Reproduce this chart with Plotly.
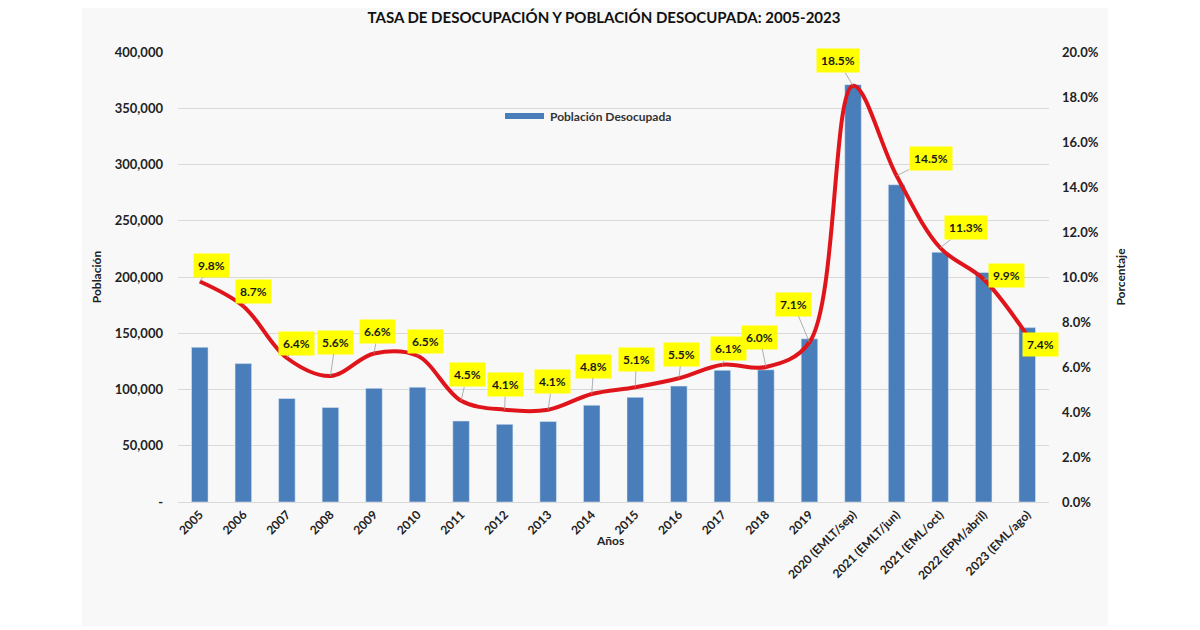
import plotly.graph_objects as go

# Datos: población desocupada y tasa de desocupación
anios = ["2005", "2006", "2007", "2008", "2009", "2010", "2011", "2012", "2013",
         "2014", "2015", "2016", "2017", "2018", "2019",
         "2020 (EMLT/sep)", "2021 (EMLT/jun)", "2021 (EML/oct)",
         "2022 (EPM/abril)", "2023 (EML/ago)"]
poblacion = [137500, 123000, 92000, 84000, 101000, 102000, 72000, 69000, 71500,
             86000, 93000, 103000, 117000, 117500, 145000,
             371000, 282000, 222000, 204000, 155000]
tasa = [9.8, 8.7, 6.4, 5.6, 6.6, 6.5, 4.5, 4.1, 4.1, 4.8, 5.1, 5.5, 6.1, 6.0,
        7.1, 18.5, 14.5, 11.3, 9.9, 7.4]
ticks_pob = [0, 50000, 100000, 150000, 200000, 250000, 300000, 350000, 400000]
ticks_pob_txt = ["-"] + [f"{v:,}" for v in ticks_pob[1:]]
ticks_pct = [0, 2, 4, 6, 8, 10, 12, 14, 16, 18, 20]
ticks_pct_txt = [f"{v:.1f}%" for v in ticks_pct]

# desplazamiento (px) de cada etiqueta respecto al punto
label_offsets = [(12, -16), (10, -15), (10, -15), (5, -34), (4, -22), (8, -14),
                 (6, -26), (1, -25), (4, -28), (2, -28), (1, -28), (3, -24),
                 (6, -16), (-6, -30), (-16, -38), (-15, -25), (34, -17),
                 (26, -20), (23, -4), (13, 9)]

FONT = "Lato"
PAD = 8  # margen del body de la página
W, H = 1200 - PAD, 630 - PAD
L, R, T, B = 178 - PAD, 151, 52 - PAD, 136 - PAD
PW, PH = W - L - R, H - T - B


def px(xp):
    return (xp - PAD - L) / PW


def py(yp):
    return (H - B - (yp - PAD)) / PH


fig = go.Figure()
fig.add_trace(go.Bar(x=anios, y=poblacion, name="Población Desocupada",
                     marker_color="#4a7ebb", width=0.38, showlegend=False))
fig.add_trace(go.Scatter(x=anios, y=tasa, yaxis="y2", mode="lines",
                         line=dict(color="#e0151b", width=4, shape="spline", smoothing=1.0),
                         showlegend=False))

annotations = []
for i, (t, (dx, dy)) in enumerate(zip(tasa, label_offsets)):
    # x como índice de categoría (los años numéricos se leerían como posición)
    annotations.append(dict(x=i, y=t, xref="x", yref="y2", text=f"{t:.1f}%",
                            showarrow=True, arrowhead=0, arrowwidth=0.8,
                            arrowcolor="#9a9a9a", ax=dx, ay=dy,
                            bgcolor="#ffff00", borderpad=4,
                            font=dict(family=FONT, size=12, color="#1a1a1a", weight="bold")))

annotations.append(dict(text="Años", x=px(610), y=py(540),
                        xref="paper", yref="paper", showarrow=False,
                        xanchor="center", yanchor="middle",
                        font=dict(family=FONT, size=12, color="#222", weight="bold")))
annotations.append(dict(text="Población Desocupada", x=px(548), y=py(116),
                        xref="paper", yref="paper", showarrow=False,
                        xanchor="left", yanchor="middle",
                        font=dict(family=FONT, size=12, color="#333", weight="bold")))

shapes = [
    dict(type="rect", xref="paper", yref="paper", layer="below",
         x0=px(82), x1=px(1108), y0=py(626), y1=py(0),
         fillcolor="#f8f8f8", line=dict(width=0)),
    dict(type="rect", xref="paper", yref="paper",
         x0=px(505), x1=px(544), y0=py(119), y1=py(113),
         fillcolor="#4a7ebb", line=dict(width=0)),
]

fig.update_layout(
    width=W, height=H,
    margin=dict(l=L, r=R, t=T, b=B),
    paper_bgcolor="white", plot_bgcolor="rgba(0,0,0,0)",
    title=dict(text="TASA DE DESOCUPACIÓN Y POBLACIÓN DESOCUPADA: 2005-2023",
               x=0.5, xanchor="center", y=(H - 10) / H, yanchor="middle",
               font=dict(family=FONT, size=15, color="#111", weight="bold")),
    font=dict(family=FONT, size=12, color="#222"),
    xaxis=dict(type="category", range=[-0.5, len(anios) - 0.5], tickangle=-45,
               tickfont=dict(family=FONT, size=12, weight="bold"),
               showgrid=False, showline=True, linecolor="#d9d9d9", ticks=""),
    yaxis=dict(range=[0, 400000], tickvals=ticks_pob, ticktext=ticks_pob_txt,
               showgrid=True, gridcolor="#d9d9d9", zeroline=False,
               tickfont=dict(family=FONT, size=13, weight="bold"), ticklabelstandoff=14,
               title=dict(text="Población", standoff=10,
                          font=dict(family=FONT, size=12, weight="bold"))),
    yaxis2=dict(range=[0, 20], tickvals=ticks_pct, ticktext=ticks_pct_txt,
                overlaying="y", side="right", showgrid=False, zeroline=False,
                tickfont=dict(family=FONT, size=13, weight="bold"), ticklabelstandoff=12,
                title=dict(text="Porcentaje", standoff=18,
                           font=dict(family=FONT, size=12, weight="bold"))),
    annotations=annotations,
    shapes=shapes,
)

fig.write_html("out.html")
